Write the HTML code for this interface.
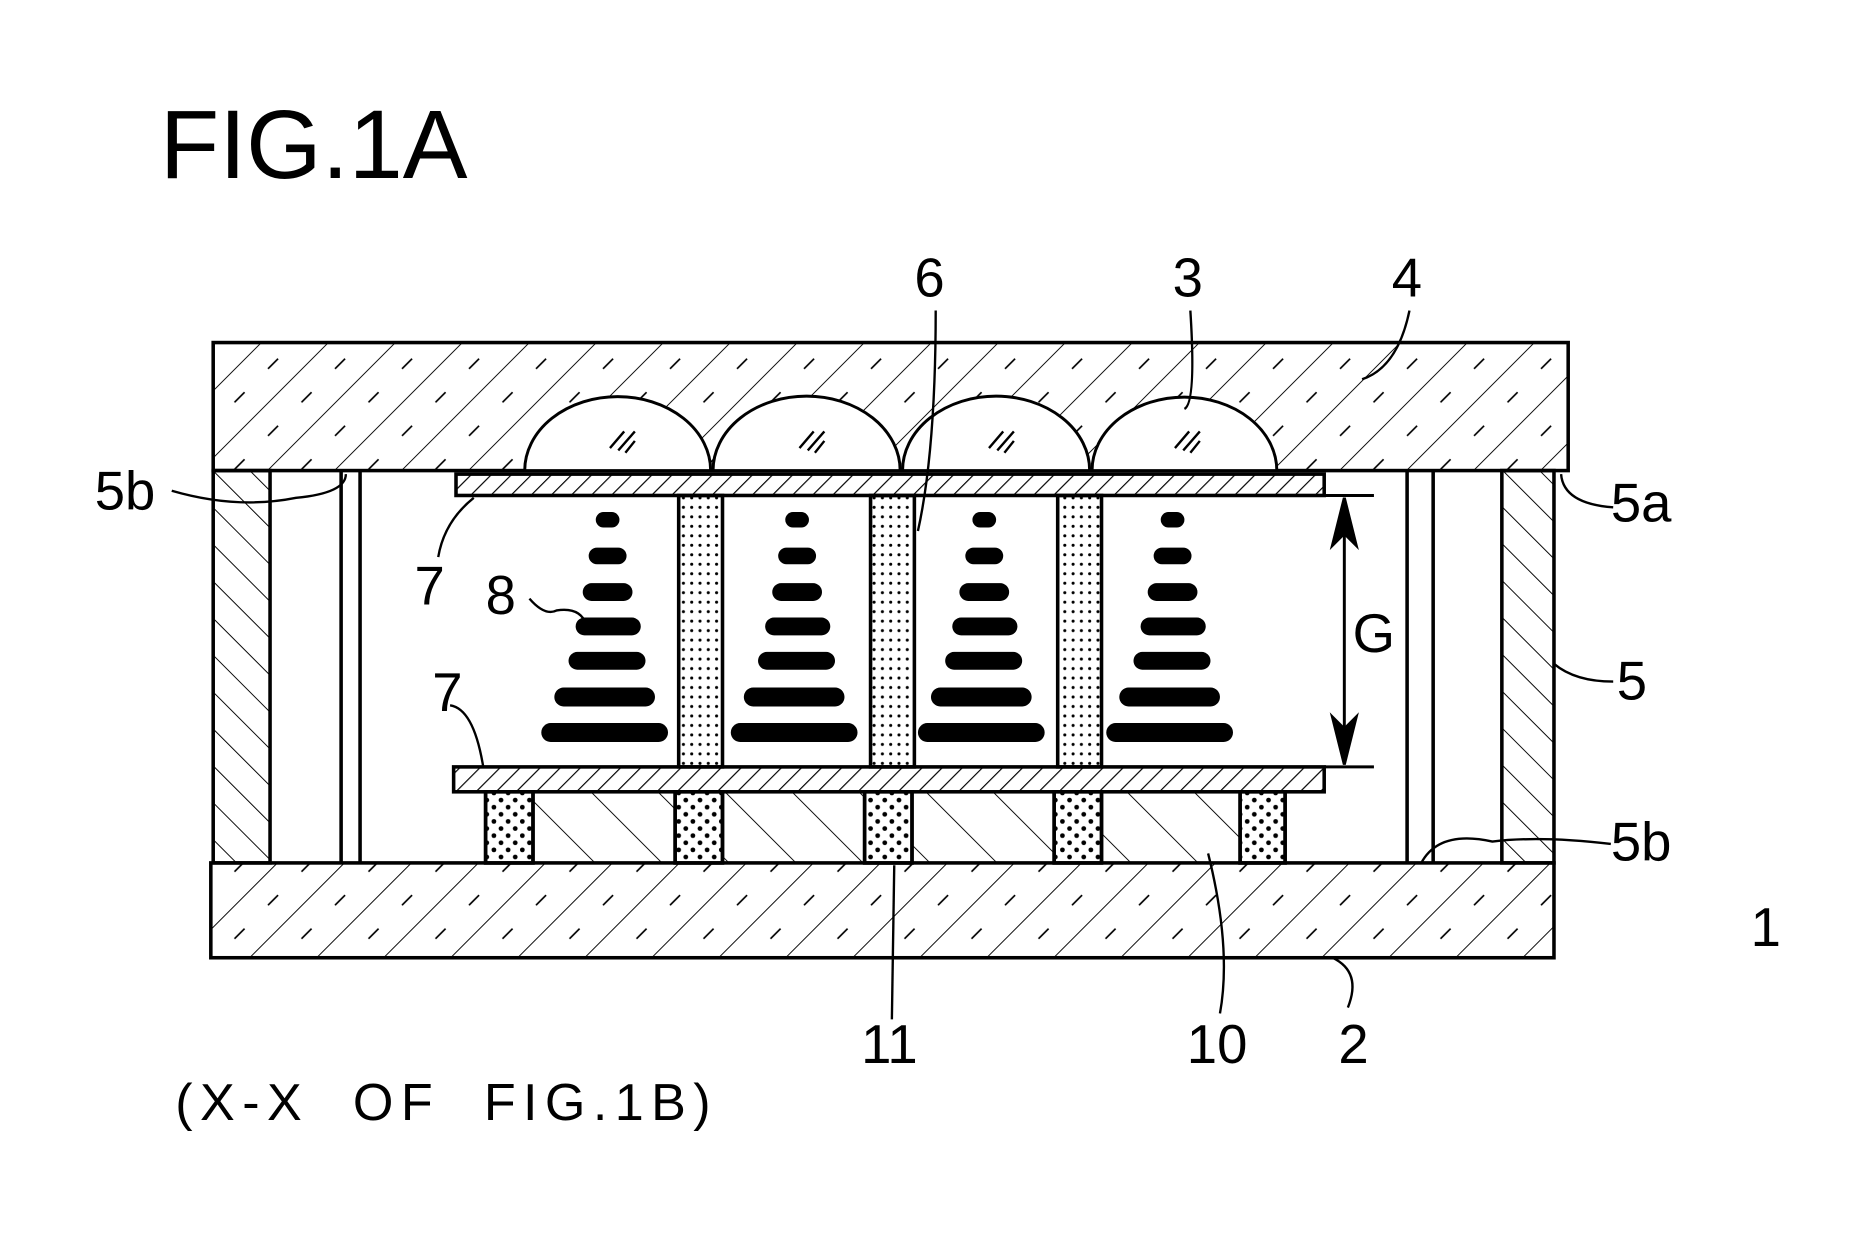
<!DOCTYPE html>
<html><head><style>html,body{margin:0;padding:0;background:#fff}svg{display:block}</style></head>
<body>
<svg width="1856" height="1260" viewBox="0 0 1567 1063" preserveAspectRatio="none" xmlns="http://www.w3.org/2000/svg" font-family="Liberation Sans, sans-serif">
<defs>
<pattern id="h" width="40" height="40" patternUnits="userSpaceOnUse" patternTransform="rotate(45)">
<line x1="0" y1="0" x2="0" y2="40" stroke="#000" stroke-width="1.6"/>
<line x1="20" y1="8" x2="20" y2="20" stroke="#000" stroke-width="1.4"/>
</pattern>
<pattern id="h2" width="22" height="22" patternUnits="userSpaceOnUse" patternTransform="rotate(-45)">
<line x1="0" y1="0" x2="0" y2="22" stroke="#000" stroke-width="1.6"/>
</pattern>
<pattern id="h3" width="12" height="12" patternUnits="userSpaceOnUse" patternTransform="rotate(45)">
<line x1="0" y1="0" x2="0" y2="12" stroke="#000" stroke-width="2"/>
</pattern>
<pattern id="h4" width="40" height="40" patternUnits="userSpaceOnUse" patternTransform="rotate(-45)">
<line x1="0" y1="0" x2="0" y2="40" stroke="#000" stroke-width="1.6"/>
</pattern>
<pattern id="d" width="7" height="8" patternUnits="userSpaceOnUse">
<circle cx="3" cy="4" r="1.3" fill="#000"/>
</pattern>
<pattern id="d2" width="12" height="12" patternUnits="userSpaceOnUse">
<circle cx="3" cy="3" r="2" fill="#000"/><circle cx="9" cy="9" r="2" fill="#000"/>
</pattern>
</defs>
<text x="135" y="150" font-size="82">FIG.1A</text>
<rect x="180" y="289" width="1144" height="108" fill="url(#h)" stroke="#000" stroke-width="3"/>
<g fill="#fff" stroke="#000" stroke-width="2.5">
<path d="M443 397 A78 62 0 0 1 600 397 Z"/>
<path d="M602 397 A78 62 0 0 1 760 397 Z"/>
<path d="M762 397 A78 62 0 0 1 920 397 Z"/>
<path d="M922 397 A78 62 0 0 1 1078 397 Z"/>
</g>
<g stroke="#000" stroke-width="2">
<path d="M515 378 l12 -14 M522 380 l14 -16 M528 382 l8 -10"/>
<path d="M675 378 l12 -14 M682 380 l14 -16 M688 382 l8 -10"/>
<path d="M835 378 l12 -14 M842 380 l14 -16 M848 382 l8 -10"/>
<path d="M992 378 l12 -14 M999 380 l14 -16 M1005 382 l8 -10"/>
</g>
<rect x="178" y="728" width="1134" height="80" fill="url(#h)" stroke="#000" stroke-width="3"/>
<rect x="180" y="397" width="48" height="331" fill="url(#h2)" stroke="#000" stroke-width="3"/>
<rect x="1268" y="397" width="44" height="331" fill="url(#h2)" stroke="#000" stroke-width="3"/>
<g stroke="#000" stroke-width="3">
<line x1="288" y1="397" x2="288" y2="728"/><line x1="304" y1="397" x2="304" y2="728"/>
<line x1="1188" y1="397" x2="1188" y2="728"/><line x1="1210" y1="397" x2="1210" y2="728"/>
</g>
<rect x="385" y="400" width="733" height="18" fill="url(#h3)" stroke="#000" stroke-width="3"/>
<rect x="383" y="647" width="735" height="21" fill="url(#h3)" stroke="#000" stroke-width="3"/>
<g fill="url(#d)" stroke="#000" stroke-width="3">
<rect x="573" y="418" width="37" height="229"/>
<rect x="735" y="418" width="37" height="229"/>
<rect x="893" y="418" width="37" height="229"/>
</g>
<rect x="410" y="668" width="675" height="60" fill="url(#h4)"/>
<g stroke="#000" stroke-width="3" fill="#fff">
<rect x="410" y="668" width="40" height="60"/>
<rect x="570" y="668" width="40" height="60"/>
<rect x="730" y="668" width="40" height="60"/>
<rect x="890" y="668" width="40" height="60"/>
<rect x="1047" y="668" width="38" height="60"/>
</g>
<g stroke="#000" stroke-width="3" fill="url(#d2)">
<rect x="410" y="668" width="40" height="60"/>
<rect x="570" y="668" width="40" height="60"/>
<rect x="730" y="668" width="40" height="60"/>
<rect x="890" y="668" width="40" height="60"/>
<rect x="1047" y="668" width="38" height="60"/>
</g>
<g fill="#000">
<g id="s">
<rect x="503" y="432" width="20" height="13" rx="6.5"/>
<rect x="497" y="462" width="32" height="14" rx="7"/>
<rect x="492" y="492" width="42" height="15" rx="7.5"/>
<rect x="486" y="521" width="55" height="15" rx="7.5"/>
<rect x="480" y="550" width="65" height="15" rx="7.5"/>
<rect x="468" y="580" width="85" height="16" rx="8"/>
<rect x="457" y="610" width="107" height="16" rx="8"/>
</g>
<use href="#s" x="160"/><use href="#s" x="318"/><use href="#s" x="477"/>
</g>
<g stroke="#000" stroke-width="2.5" fill="#000">
<line x1="1118" y1="418" x2="1160" y2="418"/><line x1="1118" y1="647" x2="1160" y2="647"/>
<line x1="1135" y1="440" x2="1135" y2="625"/>
<path d="M1135 420 L1125 460 L1135 450 L1145 460 Z"/>
<path d="M1135 645 L1125 605 L1135 615 L1145 605 Z"/>
</g>
<g fill="none" stroke="#000" stroke-width="2">
<path d="M145 414 Q200 430 250 420 Q292 416 292 400"/>
<path d="M370 470 Q375 440 400 420"/>
<path d="M447 505 Q460 520 470 515 Q490 512 495 527"/>
<path d="M380 595 Q400 598 408 647"/>
<path d="M790 262 Q790 380 775 448"/>
<path d="M1005 262 Q1010 340 1000 345"/>
<path d="M1190 262 Q1180 310 1150 320"/>
<path d="M1362 428 Q1320 425 1318 400"/>
<path d="M1362 575 Q1330 575 1312 560"/>
<path d="M1360 712 Q1300 705 1260 710 Q1215 700 1200 728"/>
<path d="M753 860 L755 730"/>
<path d="M1030 855 Q1040 800 1020 720"/>
<path d="M1138 850 Q1150 820 1125 808"/>
</g>
<g font-size="46">
<text x="772" y="250">6</text><text x="990" y="250">3</text><text x="1175" y="250">4</text>
<text x="80" y="430">5b</text><text x="1360" y="440">5a</text>
<text x="350" y="510">7</text><text x="410" y="518">8</text><text x="365" y="600">7</text>
<text x="1142" y="550">G</text><text x="1365" y="590">5</text><text x="1360" y="726">5b</text>
<text x="1478" y="798">1</text><text x="727" y="897">11</text><text x="1002" y="897">10</text><text x="1130" y="897">2</text>
<text x="148" y="945" font-size="44" textLength="452" lengthAdjust="spacing" xml:space="preserve">(X-X  OF  FIG.1B)</text>
</g>
</svg>
</body></html>
